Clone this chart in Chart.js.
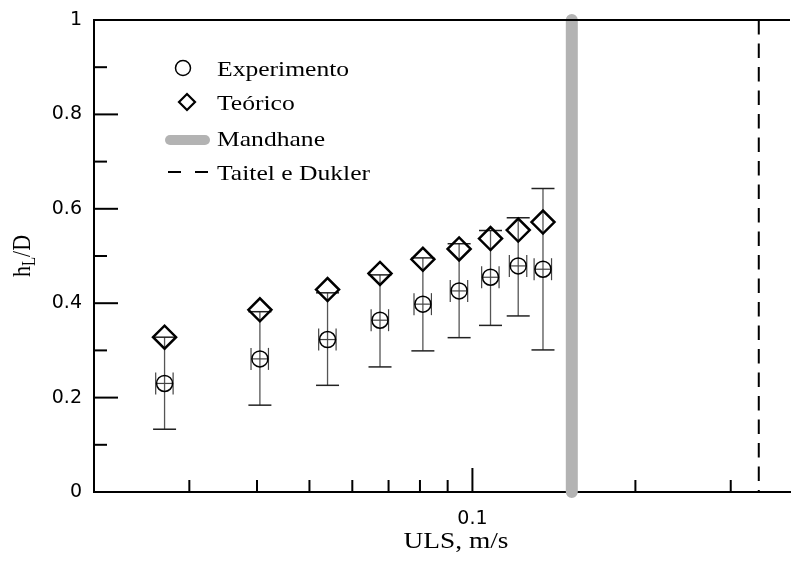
<!DOCTYPE html>
<html>
<head>
<meta charset="utf-8">
<script src="https://cdn.jsdelivr.net/npm/chart.js@4.4.2/dist/chart.umd.min.js"></script>
<style>
  html, body { margin: 0; padding: 0; background: #fff; overflow: hidden; }
</style>
</head>
<body>
<!-- the figure is cropped on the right: the canvas runs a little past the window -->
<canvas id="chart" width="804" height="567"></canvas>
<script>
// ULS (m/s) of each measurement
const uls = [0.027, 0.0405, 0.054, 0.0675, 0.081, 0.0945, 0.108, 0.1215, 0.135];
const ulsErr = [0.001, 0.0015, 0.002, 0.0025, 0.003, 0.0035, 0.004, 0.0045, 0.005];
// hL/D
const hExp = [0.230, 0.282, 0.323, 0.364, 0.398, 0.426, 0.455, 0.479, 0.472];
const hExpLow = [0.133, 0.184, 0.226, 0.265, 0.299, 0.327, 0.353, 0.373, 0.301];
const hExpHigh = [0.328, 0.382, 0.422, 0.460, 0.496, 0.526, 0.554, 0.581, 0.643];
const hTeo = [0.328, 0.386, 0.429, 0.463, 0.493, 0.515, 0.537, 0.555, 0.572];
// transition lines
const mandhaneULS = 0.1526;
const taitelDuklerULS = 0.338;

const xTicks = [0.03, 0.04, 0.05, 0.06, 0.07, 0.08, 0.09, 0.1, 0.2, 0.3];
const xLabeled = [0.1];
const yTicks = [0, 0.1, 0.2, 0.3, 0.4, 0.5, 0.6, 0.7, 0.8, 0.9, 1];
const yLabeled = [0, 0.2, 0.4, 0.6, 0.8, 1];

const legendItems = ['Experimento', 'Teórico', 'Mandhane', 'Taitel e Dukler'];

const SERIF = '"Liberation Serif", "Times New Roman", serif';
const STRETCH = 1.19;

function line(ctx, x1, y1, x2, y2) {
  ctx.beginPath();
  ctx.moveTo(x1, y1);
  ctx.lineTo(x2, y2);
  ctx.stroke();
}

function wideText(ctx, text, x, y) {
  ctx.save();
  ctx.translate(x, y);
  ctx.scale(STRETCH, 1);
  ctx.fillText(text, 0, 0);
  ctx.restore();
}

const errorBars = {
  id: 'errorBars',
  beforeDatasetsDraw(chart) {
    const { ctx } = chart;
    const xs = chart.scales.x, ys = chart.scales.y;
    ctx.save();
    uls.forEach((u, i) => {
      const px = xs.getPixelForValue(u);
      const lo = ys.getPixelForValue(hExpLow[i]);
      const hi = ys.getPixelForValue(hExpHigh[i]);
      ctx.strokeStyle = '#555';
      ctx.lineWidth = 1.3;
      line(ctx, px, lo, px, hi);
      ctx.strokeStyle = '#222';
      ctx.lineWidth = 1.5;
      line(ctx, px - 11.5, lo, px + 11.5, lo);
      line(ctx, px - 11.5, hi, px + 11.5, hi);
      // ULS error
      const py = ys.getPixelForValue(hExp[i]);
      const xl = xs.getPixelForValue(u - ulsErr[i]);
      const xr = xs.getPixelForValue(u + ulsErr[i]);
      ctx.strokeStyle = '#444';
      ctx.lineWidth = 1.2;
      line(ctx, xl, py, xr, py);
      line(ctx, xl, py - 11, xl, py + 11);
      line(ctx, xr, py - 11, xr, py + 11);
    });
    ctx.restore();
  }
};

const frame = {
  id: 'frame',
  afterDraw(chart) {
    const { ctx, chartArea: a } = chart;
    const xs = chart.scales.x, ys = chart.scales.y;
    ctx.save();
    ctx.strokeStyle = '#000';
    ctx.lineWidth = 2;
    line(ctx, a.left - 1, a.top, a.right, a.top);
    // inward ticks
    xs.ticks.forEach(t => {
      const px = xs.getPixelForValue(t.value);
      line(ctx, px, a.bottom, px, a.bottom - (xLabeled.includes(t.value) ? 24 : 12));
    });
    ys.ticks.forEach(t => {
      const py = ys.getPixelForValue(t.value);
      line(ctx, a.left, py, a.left + (yLabeled.includes(t.value) ? 24 : 13), py);
    });

    // legend
    ctx.fillStyle = 'rgba(0,0,0,0)';
    ctx.strokeStyle = '#000';
    ctx.lineWidth = 1.5;
    Chart.helpers.drawPoint(ctx, { pointStyle: 'circle', radius: 7.5, borderWidth: 1.5 }, 183, 68);
    ctx.lineWidth = 2.2;
    Chart.helpers.drawPoint(ctx, { pointStyle: 'rectRot', radius: 8, borderWidth: 2.2 }, 187, 102);
    ctx.lineCap = 'round';
    ctx.strokeStyle = '#b3b3b3';
    ctx.lineWidth = 10;
    line(ctx, 170, 140, 205, 140);
    ctx.lineCap = 'butt';
    ctx.strokeStyle = '#000';
    ctx.lineWidth = 2;
    line(ctx, 168, 172, 181, 172);
    line(ctx, 195, 172, 208, 172);

    ctx.fillStyle = '#000';
    ctx.font = '21.5px ' + SERIF;
    ctx.textAlign = 'left';
    ctx.textBaseline = 'alphabetic';
    const rowBase = [76, 110, 146, 180];
    legendItems.forEach((txt, i) => wideText(ctx, txt, 217, rowBase[i]));

    // x title
    ctx.textAlign = 'center';
    ctx.font = '23px ' + SERIF;
    wideText(ctx, 'ULS, m/s', 456, 548);

    // y title with subscript
    ctx.save();
    ctx.translate(30, (a.top + a.bottom) / 2);
    ctx.scale(STRETCH, 1);
    ctx.rotate(-Math.PI / 2);
    ctx.textAlign = 'left';
    const big = '22px ' + SERIF, small = '15px ' + SERIF;
    ctx.font = big;
    const wH = ctx.measureText('h').width;
    const wR = ctx.measureText('/D').width;
    ctx.font = small;
    const wL = ctx.measureText('L').width;
    let x0 = -(wH + wL + wR) / 2;
    ctx.font = big;
    ctx.fillText('h', x0, 0);
    ctx.font = small;
    ctx.fillText('L', x0 + wH, 4);
    ctx.font = big;
    ctx.fillText('/D', x0 + wH + wL, 0);
    ctx.restore();

    ctx.restore();
  }
};

const tickFont = { family: '"DejaVu Sans", sans-serif', size: 19 };

new Chart(document.getElementById('chart'), {
  type: 'scatter',
  data: {
    datasets: [
      {
        label: legendItems[0],
        data: uls.map((u, i) => ({ x: u, y: hExp[i] })),
        pointStyle: 'circle',
        pointRadius: 8,
        pointHoverRadius: 8,
        borderColor: '#000',
        borderWidth: 1.5,
        backgroundColor: 'rgba(0,0,0,0)',
        order: 1
      },
      {
        label: legendItems[1],
        data: uls.map((u, i) => ({ x: u, y: hTeo[i] })),
        pointStyle: 'rectRot',
        pointRadius: 11.5,
        pointHoverRadius: 11.5,
        borderColor: '#000',
        borderWidth: 2.5,
        backgroundColor: 'rgba(0,0,0,0)',
        order: 0
      },
      {
        label: legendItems[2],
        type: 'line',
        data: [{ x: mandhaneULS, y: 1 }, { x: mandhaneULS, y: 0 }],
        borderColor: '#b3b3b3',
        borderWidth: 12,
        borderCapStyle: 'round',
        pointRadius: 0,
        clip: false,
        order: 5
      },
      {
        label: legendItems[3],
        type: 'line',
        data: [{ x: taitelDuklerULS, y: 1 }, { x: taitelDuklerULS, y: 0 }],
        borderColor: '#000',
        borderWidth: 2,
        borderDash: [14.5, 9],
        pointRadius: 0,
        order: 4
      }
    ]
  },
  options: {
    responsive: false,
    animation: false,
    devicePixelRatio: 1,
    layout: {
      padding: { left: 0, top: 20, right: 0, bottom: 0 }
    },
    plugins: {
      legend: { display: false },
      tooltip: { enabled: false }
    },
    scales: {
      x: {
        type: 'logarithmic',
        min: 0.02,
        max: 0.386,
        z: 1,
        afterBuildTicks: scale => {
          scale.ticks = xTicks.map(v => ({ value: v }));
        },
        afterFit: scale => {
          scale.height = 75;
          scale.paddingLeft = 0;
          scale.paddingRight = 0;
        },
        ticks: {
          autoSkip: false,
          maxRotation: 0,
          padding: 16,
          color: '#000',
          font: tickFont,
          callback: value => xLabeled.includes(value) ? String(value) : ''
        },
        grid: { display: false, drawTicks: false },
        border: { color: '#000', width: 2 }
      },
      y: {
        min: 0,
        max: 1,
        z: 1,
        afterBuildTicks: scale => {
          scale.ticks = yTicks.map(v => ({ value: v }));
        },
        afterFit: scale => {
          scale.width = 94;
          scale.paddingTop = 0;
          scale.paddingBottom = 0;
        },
        ticks: {
          autoSkip: false,
          padding: 12,
          color: '#000',
          font: tickFont,
          callback: value => yLabeled.includes(value) ? String(value) : ''
        },
        grid: { display: false, drawTicks: false },
        border: { color: '#000', width: 2 }
      }
    }
  },
  plugins: [errorBars, frame]
});
</script>
</body>
</html>
